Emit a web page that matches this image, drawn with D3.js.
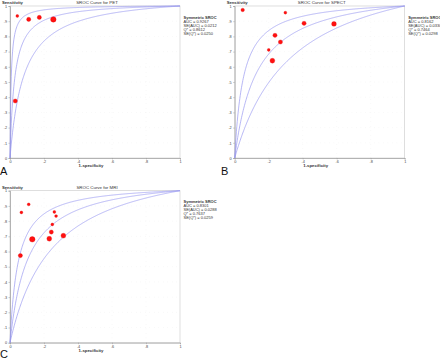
<!DOCTYPE html>
<html><head><meta charset="utf-8">
<script src="https://cdn.jsdelivr.net/npm/d3@7"></script>
<style>body{margin:0;background:#fff}svg{display:block;font-family:"Liberation Sans",Arial,sans-serif}</style>
</head><body>
<svg id="c" width="440" height="360"></svg>
<script>
// ---- data ----
const panelLetters = ["A", "B", "C"];
const panelTitles = ["SROC Curve  for PET", "SROC Curve  for SPECT", "SROC Curve  for MRI"];
const yTickLabels = ["0", ".1", ".2", ".3", ".4", ".5", ".6", ".7", ".8", ".9", "1"];
const yTickValues = [0, .1, .2, .3, .4, .5, .6, .7, .8, .9, 1];
const xTickLabels = ["0", ".2", ".4", ".6", ".8", "1"];
const xTickValues = [0, .2, .4, .6, .8, 1];
// Q* of the three symmetric curves drawn in each panel (upper, SROC, lower)
const curveQ_PET = [0.925, 0.8612, 0.785];
const curveQ_SPECT = [0.82, 0.7464, 0.665];
const curveQ_MRI = [0.825, 0.7637, 0.69];
// study points: 1-specificity, sensitivity, relative weight (1 small, 2 medium, 3 large)
const fpr_PET = [0.043, 0.110, 0.1725, 0.255, 0.031];
const sens_PET = [0.934, 0.912, 0.925, 0.912, 0.375];
const weight_PET = [1, 2, 2, 3, 2];
const fpr_SPECT = [0.047, 0.298, 0.408, 0.584, 0.237, 0.269, 0.200, 0.2216];
const sens_SPECT = [0.974, 0.956, 0.886, 0.882, 0.807, 0.763, 0.711, 0.640];
const weight_SPECT = [1.5, 1, 2, 2.5, 2, 2, 1, 2.5];
const fpr_MRI = [0.110, 0.067, 0.261, 0.271, 0.249, 0.243, 0.131, 0.231, 0.314, 0.061];
const sens_MRI = [0.910, 0.857, 0.860, 0.833, 0.778, 0.728, 0.680, 0.684, 0.704, 0.573];
const weight_MRI = [1, 1, 1, 1, 1, 2, 3, 2.5, 2.5, 2];
const statsLabels = ["Symmetric SROC", "AUC = ", "SE(AUC) = ", "Q* = ", "SE(Q*) = "];
const stats_PET = ["0.9267", "0.0212", "0.8612", "0.0250"];
const stats_SPECT = ["0.8162", "0.0330", "0.7464", "0.0298"];
const stats_MRI = ["0.8301", "0.0288", "0.7637", "0.0259"];

const panels = [
  {ox: 0, oy: 0, q: curveQ_PET, f: fpr_PET, s: sens_PET, w: weight_PET, st: stats_PET},
  {ox: 224.7, oy: 0, q: curveQ_SPECT, f: fpr_SPECT, s: sens_SPECT, w: weight_SPECT, st: stats_SPECT},
  {ox: 0, oy: 184.7, q: curveQ_MRI, f: fpr_MRI, s: sens_MRI, w: weight_MRI, st: stats_MRI}
];
const letterPos = [[0, 175], [221, 175], [0, 358]];

const svg = d3.select("#c");
const fgrid = d3.range(0, 1.0001, 0.0025).map(v => Math.max(v, 1e-6));

panels.forEach((p, i) => {
  const x = d3.scaleLinear().domain([0, 1]).range([10 + p.ox, 180 + p.ox]);
  const y = d3.scaleLinear().domain([0, 1]).range([158 + p.oy, 6 + p.oy]);
  const g = svg.append("g");
  // grid
  g.selectAll("line.gy").data(yTickValues.slice(1, -1)).join("line")
    .attr("x1", x(0)).attr("x2", x(1)).attr("y1", d => y(d)).attr("y2", d => y(d))
    .attr("stroke", "#e4e4e4").attr("stroke-width", 0.5).attr("stroke-dasharray", "0.5,4");
  g.selectAll("line.gx").data(xTickValues.slice(1, -1)).join("line")
    .attr("y1", y(0)).attr("y2", y(1)).attr("x1", d => x(d)).attr("x2", d => x(d))
    .attr("stroke", "#e4e4e4").attr("stroke-width", 0.5).attr("stroke-dasharray", "0.5,4");
  // frame
  g.append("rect").attr("x", x(0)).attr("y", y(1)).attr("width", x(1) - x(0)).attr("height", y(0) - y(1))
    .attr("fill", "none").attr("stroke", "#c8c8c8").attr("stroke-width", 0.6);
  // axes
  const ya = d3.axisLeft(y).tickValues(yTickValues).tickFormat((d, k) => yTickLabels[k]).tickSize(1.5).tickPadding(1.5);
  const xa = d3.axisBottom(x).tickValues(xTickValues).tickFormat((d, k) => xTickLabels[k]).tickSize(1.5).tickPadding(1);
  const gy = g.append("g").attr("transform", `translate(${x(0)},0)`).call(ya);
  const gx = g.append("g").attr("transform", `translate(0,${y(0)})`).call(xa);
  [gy, gx].forEach(a => {
    a.select(".domain").attr("stroke", "#999").attr("stroke-width", 0.7);
    a.selectAll(".tick line").attr("stroke", "#999").attr("stroke-width", 0.5);
    a.selectAll("text").attr("font-size", 3.8).attr("fill", "#444").attr("font-family", "Liberation Sans, Arial");
  });
  // curves
  const line = d3.line().x(d => x(d[0])).y(d => y(d[1])).curve(d3.curveLinear);
  p.q.forEach(q => {
    const k = Math.pow((1 - q) / q, 2);
    const pts = [[0, 0]].concat(fgrid.map(f => [f, 1 / (1 + k * (1 - f) / f)]));
    g.append("path").attr("d", line(pts)).attr("fill", "none").attr("stroke", "#9898f0").attr("stroke-width", 0.7);
  });
  // points
  const pts = p.f.map((f, j) => ({f, s: p.s[j], w: p.w[j]}));
  g.selectAll("circle.pt").data(pts).join("circle")
    .attr("cx", d => x(d.f)).attr("cy", d => y(d.s)).attr("r", d => 0.8 + d.w * 0.65)
    .attr("fill", "#ff1010").attr("stroke", "#e00000").attr("stroke-width", 0.3);
  // labels
  g.append("text").attr("x", x(0) - 8).attr("y", y(1) - 2.2).attr("font-size", 4.2).attr("font-weight", "bold")
    .attr("fill", "#333").text("Sensitivity");
  g.append("text").attr("x", x(0.5) + 2).attr("y", y(1) - 2).attr("font-size", 4.4).attr("text-anchor", "middle")
    .attr("fill", "#333").text(panelTitles[i]);
  g.append("text").attr("x", x(0.5) - 4).attr("y", y(0) + 9).attr("font-size", 4.3).attr("font-weight", "bold").attr("text-anchor", "middle")
    .attr("fill", "#333").text("1-specificity");
  // stats
  const sx = x(1) + 3.5, sy = y(1) + 12.5;
  statsLabels.forEach((lab, j) => {
    g.append("text").attr("x", sx).attr("y", sy + j * 4).attr("font-size", 4)
      .attr("font-weight", j === 0 ? "bold" : "normal").attr("fill", "#333")
      .text(j === 0 ? lab : lab + p.st[j - 1]);
  });
  // panel letter
  svg.append("text").attr("x", letterPos[i][0]).attr("y", letterPos[i][1]).attr("font-size", 11)
    .attr("fill", "#111").text(panelLetters[i]);
});
</script>
</body></html>
